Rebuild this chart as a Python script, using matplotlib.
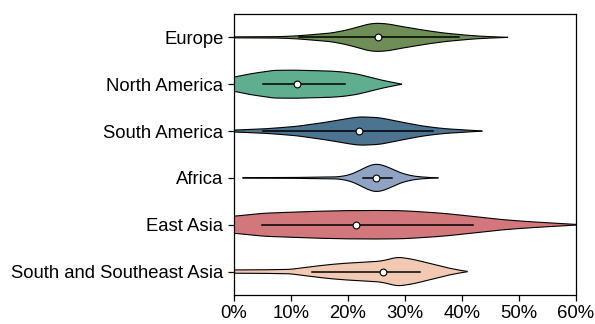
import numpy as np
import matplotlib
matplotlib.use("Agg")
import matplotlib.pyplot as plt
from matplotlib.ticker import PercentFormatter

plt.rcParams['font.family'] = ['Liberation Sans', 'DejaVu Sans']

regions = ["Europe", "North America", "South America", "Africa",
           "East Asia", "South and Southeast Asia"]
colors = ["#6f8d56", "#5fae90", "#4c7390", "#8fa4c2", "#d2777b", "#f2cab3"]

# violin outline: share (%) and half-width (in category units)
profile_x = {
    "Europe": [0, 8, 11, 14, 17, 20, 22.5, 24.5, 27, 29, 31, 34, 37, 40, 42.5, 45.5, 48],
    "North America": [0, 2.8, 6.9, 10.5, 13.9, 17, 19.2, 21.5, 23.9, 25.8, 27.4, 29.4],
    "South America": [0, 5.1, 8, 11, 14, 16.8, 19.5, 22.1, 25.6, 27.8, 29.7, 32, 34.4, 37, 39, 41.5, 43.5],
    "Africa": [1.6, 10, 18, 19.3, 20.4, 21.6, 22.7, 23.9, 25, 26.2, 27.4, 28.6, 29.7, 31, 32, 34, 35.8],
    "East Asia": [0, 5.1, 13.9, 19, 24.5, 29.5, 34.4, 37.5, 40.2, 43, 46.1, 49, 51.9, 56, 60],
    "South and Southeast Asia": [0, 5, 9.8, 12, 13.9, 16.8, 19.8, 22.8, 25.6, 27.2, 28.5, 30, 31.5, 33.5, 35.5, 37.4, 39, 40.9],
}
profile_w = {
    "Europe": [0.01, 0.015, 0.03, 0.06, 0.09, 0.16, 0.25, 0.305, 0.29, 0.24, 0.2, 0.14, 0.09, 0.055, 0.03, 0.012, 0.0],
    "North America": [0.15, 0.22, 0.295, 0.3, 0.29, 0.28, 0.26, 0.22, 0.15, 0.09, 0.05, 0.0],
    "South America": [0.02, 0.045, 0.07, 0.1, 0.15, 0.2, 0.26, 0.305, 0.285, 0.23, 0.185, 0.13, 0.085, 0.05, 0.035, 0.015, 0.0],
    "Africa": [0.005, 0.008, 0.02, 0.04, 0.07, 0.13, 0.2, 0.27, 0.3, 0.27, 0.21, 0.14, 0.09, 0.05, 0.03, 0.01, 0.0],
    "East Asia": [0.18, 0.245, 0.285, 0.3, 0.305, 0.3, 0.265, 0.235, 0.2, 0.16, 0.12, 0.09, 0.065, 0.035, 0.005],
    "South and Southeast Asia": [0.035, 0.038, 0.045, 0.08, 0.11, 0.15, 0.18, 0.2, 0.22, 0.26, 0.31, 0.29, 0.26, 0.2, 0.14, 0.08, 0.045, 0.0],
}
whisker_lo = [11.5, 5.1, 5.1, 22.7, 5.0, 13.7]
whisker_hi = [39.5, 19.5, 35.0, 27.8, 41.9, 32.7]
medians = [25.2, 11.0, 22.0, 25.0, 21.5, 26.2]

fig, ax = plt.subplots(figsize=(5.95, 3.24), dpi=100)
fig.subplots_adjust(left=0.393, right=0.968, top=0.957, bottom=0.0895)

for i, name in enumerate(regions):
    xs = np.linspace(profile_x[name][0], profile_x[name][-1], 300)
    hw = np.interp(xs, profile_x[name], profile_w[name])
    k = np.ones(15) / 15
    hw = np.convolve(np.pad(hw, 7, mode="edge"), k, mode="valid")
    ax.fill_between(xs, i - hw, i + hw, facecolor=colors[i], edgecolor="none", zorder=2)
    ax.plot(xs, i - hw, color="black", lw=0.8, zorder=3)
    ax.plot(xs, i + hw, color="black", lw=0.8, zorder=3)
    ax.plot([whisker_lo[i], whisker_hi[i]], [i, i], color="black", lw=1.1, zorder=4)
    ax.scatter(medians[i], i, s=24, facecolor="white", edgecolor="black", linewidth=0.8, zorder=5)

ax.set_xlim(0, 60)
ax.set_ylim(len(regions) - 0.5, -0.5)
ax.set_yticks(range(len(regions)))
ax.set_yticklabels(regions)
ax.set_xticks(range(0, 61, 10))
ax.xaxis.set_major_formatter(PercentFormatter(decimals=0))
ax.tick_params(labelsize=13.3, width=0.9, length=4)
for s in ax.spines.values():
    s.set_linewidth(0.9)

fig.savefig("out.png", dpi=100)
